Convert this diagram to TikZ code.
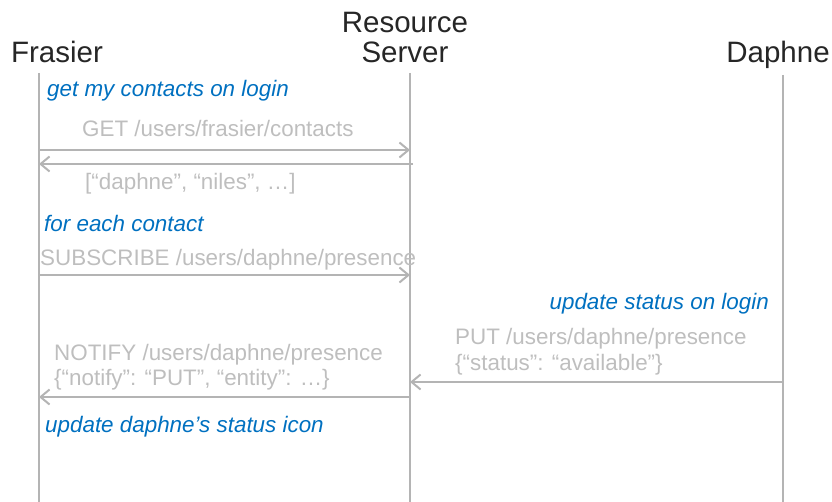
\documentclass[tikz,border=0pt]{standalone}
\usepackage{fontspec}
\setmainfont{Liberation Sans}
\usetikzlibrary{arrows.meta,positioning}
\definecolor{sqgray}{RGB}{180,180,180}
\definecolor{sqtext}{RGB}{190,190,190}
\definecolor{sqblue}{RGB}{0,112,192}
\definecolor{sqdark}{RGB}{38,38,38}
\tikzstyle{actor} = [inner sep=0, font=\fontsize{29.5}{30}\selectfont, text=sqdark, align=center]
\tikzstyle{lifeline} = [line width=2pt, draw=sqgray]
\tikzstyle{msg} = [line width=2pt, draw=sqgray, -{Straight Barb[length=9pt,width=15pt,line width=2pt]}]
\tikzstyle{msgtext} = [inner sep=0, anchor=base west, font=\fontsize{22.4}{25}\selectfont, text=sqtext, align=left]
\tikzstyle{note} = [inner sep=0, anchor=base west, font=\fontsize{22.4}{25}\selectfont\itshape, text=sqblue]

\begin{document}
\begin{tikzpicture}[x=1pt, y=-1pt]
\useasboundingbox (0,0) rectangle (832,502);

% Actors
\node (frasier) [actor, anchor=base] at (57,63) {Frasier};
\node (server) [actor, anchor=base] at (405,63) {Resource\\Server};
\node (daphne) [actor, anchor=base] at (778,63) {Daphne};

% Lifelines
\coordinate (ftop) at (39,73);
\coordinate (stop) at (410,73);
\coordinate (dtop) at (783,75);
\coordinate (fbot) at (39,502);
\coordinate (sbot) at (410,502);
\coordinate (dbot) at (783,502);
\draw[lifeline] (ftop) -- (fbot);
\draw[lifeline] (stop) -- (sbot);
\draw[lifeline] (dtop) -- (dbot);

% Message points
\foreach \n/\y in {1/150, 2/164, 3/275, 4/382, 5/397} {
  \coordinate (f\n) at (39,\y);
  \coordinate (s\n) at (410,\y);
  \coordinate (d\n) at (783,\y);
}

% Flows
\node (login) [note] at (47,97) {get my contacts on login};
\node (get) [msgtext] at (82,137) {GET /users/frasier/contacts};
\draw[msg] (f1) -- (s1);
\draw[msg] ([xshift=3pt]s2) -- (f2);
\node (list) [msgtext] at (85,190) {[“daphne”, “niles”, …]};

\node (each) [note] at (44,232) {for each contact};
\node (sub) [msgtext] at (40,266) {SUBSCRIBE /users/daphne/presence};
\draw[msg] (f3) -- (s3);

\node (status) [note, anchor=base east] at (769,309) {update status on login};
\node (put) [msgtext] at (455,370) {PUT /users/daphne/presence\\\{“status”: “available”\}};
\draw[msg] (d4) -- (s4);

\node (notify) [msgtext] at (54,385) {NOTIFY /users/daphne/presence\\\{“notify”: “PUT”, “entity”: …\}};
\draw[msg] (s5) -- (f5);
\node (icon) [note] at (45,432) {update daphne’s status icon};
\end{tikzpicture}
\end{document}
